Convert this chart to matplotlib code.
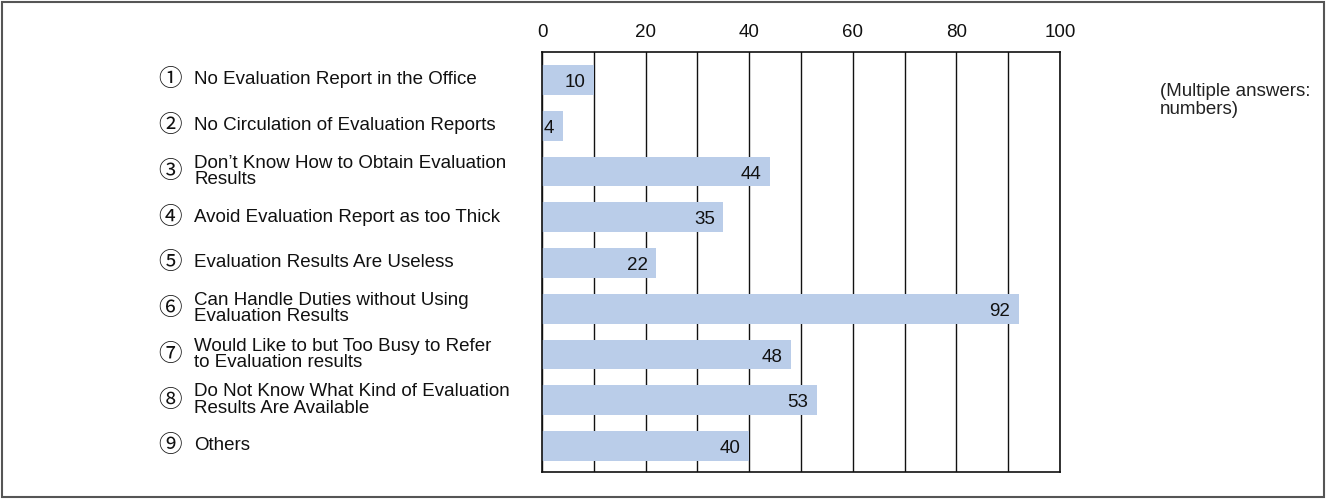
import matplotlib.pyplot as plt
import matplotlib.transforms as mtransforms
from matplotlib.patches import Rectangle

# Reasons for not using evaluation results (multiple answers, counts)
numbers = ["①", "②", "③", "④", "⑤", "⑥", "⑦", "⑧", "⑨"]
reasons = [
    "No Evaluation Report in the Office",
    "No Circulation of Evaluation Reports",
    "Don’t Know How to Obtain Evaluation\nResults",
    "Avoid Evaluation Report as too Thick",
    "Evaluation Results Are Useless",
    "Can Handle Duties without Using\nEvaluation Results",
    "Would Like to but Too Busy to Refer\nto Evaluation results",
    "Do Not Know What Kind of Evaluation\nResults Are Available",
    "Others",
]
counts = [10, 4, 44, 35, 22, 92, 48, 53, 40]

plt.rcParams["font.family"] = ["Liberation Sans", "DejaVu Sans"]

fig = plt.figure(figsize=(13.26, 5), dpi=100)
ax = fig.add_axes([542 / 1326, 0.056, 518 / 1326, 0.84])

positions = list(range(len(counts)))
ax.barh(positions, counts, height=0.65, color="#bacde9", zorder=2)

ax.set_xlim(0, 100)
ax.set_ylim(8.57, -0.61)
ax.set_xticks(range(0, 101, 20))
ax.set_xticks(range(0, 101, 10), minor=True)
ax.xaxis.tick_top()
ax.tick_params(axis="x", which="both", length=0, labelsize=13.5, pad=8, colors="#111")
ax.set_yticks([])
ax.grid(axis="x", which="both", color="#111", linewidth=1, zorder=1)
for spine in ax.spines.values():
    spine.set_color("#111")
    spine.set_linewidth(1.2)

# value labels at the end of each bar
for pos, val in zip(positions, counts):
    ax.annotate(str(val), (val, pos), xytext=(-6, -2), textcoords="offset points",
                ha="right", va="center", fontsize=13.5, color="#111", zorder=3)

# category labels on the left, x in figure coords, y in data coords
trans = mtransforms.blended_transform_factory(fig.transFigure, ax.transData)
for pos, num, text in zip(positions, numbers, reasons):
    ax.text(170 / 1326, pos, num, transform=trans, ha="center", va="center",
            fontsize=17, family=["Noto Sans CJK JP", "DejaVu Sans"], color="#111",
            clip_on=False)
    ax.text(194 / 1326, pos, text, transform=trans, ha="left", va="center",
            fontsize=13.5, linespacing=0.95, color="#111", clip_on=False)

fig.text(1160 / 1326, 1 - 83 / 500, "(Multiple answers:\nnumbers)",
         ha="left", va="top", fontsize=13.5, color="#222", linespacing=1.1)

# outer frame around the whole figure
fig.patches.append(Rectangle((0.0015, 0.006), 0.997, 0.99, transform=fig.transFigure,
                             fill=False, edgecolor="#555", linewidth=1.5))

fig.savefig("out.png", dpi=100)
